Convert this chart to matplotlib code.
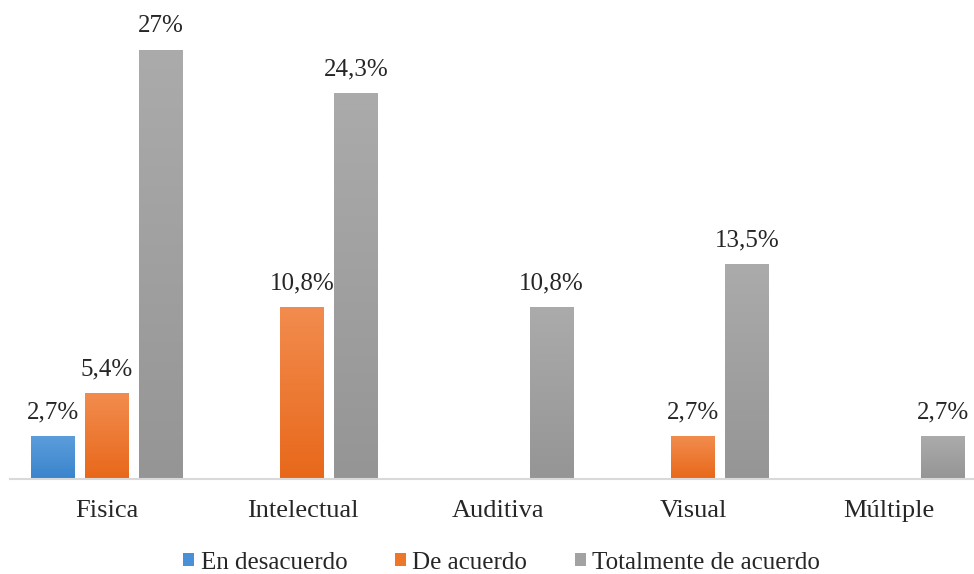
import numpy as np
import matplotlib
matplotlib.use("Agg")
import matplotlib.pyplot as plt
from matplotlib.colors import LinearSegmentedColormap
from matplotlib.patches import Patch

# data
categories = ["Fisica", "Intelectual", "Auditiva", "Visual", "Múltiple"]
series = ["En desacuerdo", "De acuerdo", "Totalmente de acuerdo"]
en_desacuerdo = [2.7, 0, 0, 0, 0]
de_acuerdo = [5.4, 10.8, 0, 2.7, 0]
totalmente = [27, 24.3, 10.8, 13.5, 2.7]
labels_des = ["2,7%", "", "", "", ""]
labels_de = ["5,4%", "10,8%", "", "2,7%", ""]
labels_tot = ["27%", "24,3%", "10,8%", "13,5%", "2,7%"]

# (top colour, bottom colour) for the slight gradient on each series
colors = [("#5c9ddb", "#3a84cc"), ("#f28c4e", "#e8681a"), ("#ababab", "#959595")]
legend_colors = ["#4a90d6", "#ed7628", "#a2a2a2"]

plt.rcParams['font.family'] = ['Liberation Serif', 'DejaVu Serif']

fig = plt.figure(figsize=(9.74, 5.74), dpi=100)
ax = fig.add_axes([10 / 974, 1 - 479 / 574, 964 / 974, 469 / 574])

x = np.arange(len(categories))
width = 0.225
step = 0.274

all_vals = [en_desacuerdo, de_acuerdo, totalmente]
all_labels = [labels_des, labels_de, labels_tot]

grad = np.linspace(0, 1, 256).reshape(-1, 1)
for i, (vals, labs) in enumerate(zip(all_vals, all_labels)):
    cmap = LinearSegmentedColormap.from_list(f"g{i}", [colors[i][1], colors[i][0]])
    pos = x + (i - 1) * step
    bars = ax.bar(pos, vals, width, color="none", edgecolor="none")
    for b, v, lab in zip(bars, vals, labs):
        if v <= 0:
            continue
        x0, y0 = b.get_x(), b.get_y()
        im = ax.imshow(grad, cmap=cmap, aspect="auto", origin="lower",
                       extent=[x0, x0 + b.get_width(), y0, y0 + b.get_height()],
                       zorder=2)
        im.set_clip_path(b)
        ax.annotate(lab, (b.get_x() + b.get_width() / 2, v),
                    xytext=(0, 9), textcoords="offset points",
                    ha="center", va="bottom", fontsize=18, color="#262626")

ax.set_xlim(-0.496, 4.435)
ax.set_ylim(0, 29.5)

for s in ["top", "right", "left"]:
    ax.spines[s].set_visible(False)
ax.spines["bottom"].set_color("#d9d9d9")
ax.spines["bottom"].set_linewidth(1.5)
ax.set_yticks([])
ax.set_xticks(x)
ax.set_xticklabels(categories, fontsize=19, color="#262626")
ax.tick_params(axis="x", length=0, pad=15)

handles = [Patch(facecolor=c, edgecolor="none") for c in legend_colors]
fig.legend(handles, series, loc="center", bbox_to_anchor=(0.515, 0.02),
           ncol=3, frameon=False, fontsize=18, handlelength=0.45,
           handleheight=0.45, handletextpad=0.25, columnspacing=1.9,
           labelcolor="#262626")

fig.savefig("out.png", dpi=100)
